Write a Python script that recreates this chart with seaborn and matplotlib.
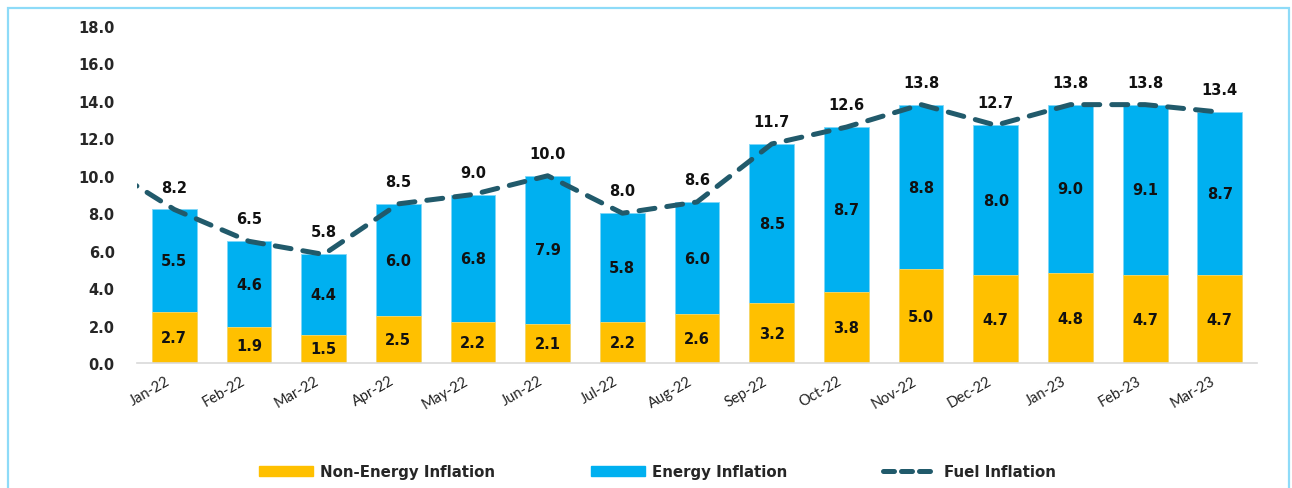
import numpy as np
import pandas as pd
import seaborn as sns
import matplotlib.pyplot as plt
import matplotlib.transforms as mtransforms
from matplotlib.patches import Rectangle

# Data
months = ['Jan-22', 'Feb-22', 'Mar-22', 'Apr-22', 'May-22', 'Jun-22', 'Jul-22', 'Aug-22',
          'Sep-22', 'Oct-22', 'Nov-22', 'Dec-22', 'Jan-23', 'Feb-23', 'Mar-23']
non_energy = [2.7, 1.9, 1.5, 2.5, 2.2, 2.1, 2.2, 2.6, 3.2, 3.8, 5.0, 4.7, 4.8, 4.7, 4.7]
energy = [5.5, 4.6, 4.4, 6.0, 6.8, 7.9, 5.8, 6.0, 8.5, 8.7, 8.8, 8.0, 9.0, 9.1, 8.7]
total = [8.2, 6.5, 5.8, 8.5, 9.0, 10.0, 8.0, 8.6, 11.7, 12.6, 13.8, 12.7, 13.8, 13.8, 13.4]
# fuel line enters from the previous month (Dec-21), clipped at the left edge
fuel_prev = 10.7
fuel = [8.2, 6.5, 5.8, 8.5, 9.0, 10.0, 8.0, 8.6, 11.7, 12.6, 13.8, 12.7, 13.8, 13.8, 13.4]
y_ticks = [0, 2, 4, 6, 8, 10, 12, 14, 16, 18]

YELLOW = '#FFC000'
BLUE = '#00B0F0'
LINE = '#215A6B'

df = pd.DataFrame({'month': months, 'non_energy': non_energy, 'energy': energy, 'total': total})

sns.set_theme(style='white')
plt.rcParams['font.family'] = ['DejaVu Sans']

fig = plt.figure(figsize=(12.92, 4.89), dpi=100)
ax = fig.add_axes([0.106, 0.2556, 0.867, 0.6892])

# stacked bars: total in blue, non-energy on top in yellow
sns.barplot(data=df, x='month', y='total', color=BLUE, width=0.6, saturation=1,
            edgecolor='#7FD6F7', linewidth=0.6, ax=ax)
sns.barplot(data=df, x='month', y='non_energy', color=YELLOW, width=0.6, saturation=1,
            edgecolor='#FFD966', linewidth=0.6, ax=ax)

# fuel inflation dashed line
xs = np.arange(-1, len(months))
ys = [fuel_prev] + fuel
ax.plot(xs, ys, color=LINE, lw=3.6, dashes=(3.2, 2.4), dash_capstyle='round',
        solid_capstyle='round', zorder=5)

# data labels
lab_kw = dict(ha='center', va='center', fontsize=10.5, fontweight='bold', color='#111111')
for i in range(len(months)):
    ax.text(i, non_energy[i] / 2, f'{non_energy[i]:.1f}', **lab_kw)
    ax.text(i, (non_energy[i] + total[i]) / 2, f'{energy[i]:.1f}', **lab_kw)
    ax.text(i, total[i] + 1.2, f'{total[i]:.1f}', zorder=6, **lab_kw)

ax.set_xlim(-0.5, len(months) - 0.5)
ax.set_ylim(0, 18)
ax.set_yticks(y_ticks)
ax.set_yticklabels([f'{v:.1f}' for v in y_ticks], fontsize=10.5, fontweight='bold')
ax.tick_params(axis='y', length=0, pad=16)
ax.tick_params(axis='x', length=0, pad=6)
ax.set_xticks(range(len(months)))
ax.set_xticklabels(months, rotation=30, ha='right', rotation_mode='anchor',
                   fontsize=10.5, family='Lato', color='#222222')
shift = mtransforms.ScaledTranslation(-9 / 100, -2 / 100, fig.dpi_scale_trans)
for lbl in ax.get_xticklabels():
    lbl.set_transform(lbl.get_transform() + shift)
ax.set_xlabel('')
ax.set_ylabel('')
for side in ['top', 'right', 'left']:
    ax.spines[side].set_visible(False)
ax.spines['bottom'].set_color('#D9D9D9')
ax.spines['bottom'].set_linewidth(1.2)
ax.grid(False)

# legend
handles = [
    Rectangle((0, 0), 1, 1, color=YELLOW),
    Rectangle((0, 0), 1, 1, color=BLUE),
    plt.Line2D([], [], color=LINE, lw=3.6, dashes=(2.2, 1.4), dash_capstyle='round'),
]
labels = ['Non-Energy Inflation', 'Energy Inflation', 'Fuel Inflation']
fig.legend(handles, labels, loc='center', bbox_to_anchor=(0.509, 0.033), ncol=3,
           frameon=False, handlelength=3.6, handleheight=0.6, handletextpad=0.45,
           columnspacing=6.4, prop={'family': 'DejaVu Sans', 'weight': 'bold', 'size': 10.8})

# light blue frame around the chart
fig.patches.append(Rectangle((8 / 1292, -0.05), 1281 / 1292, 1.05 - 9 / 489,
                             transform=fig.transFigure, fill=False,
                             edgecolor='#8EDBF8', lw=1.6))

fig.savefig('out.png', dpi=100)
